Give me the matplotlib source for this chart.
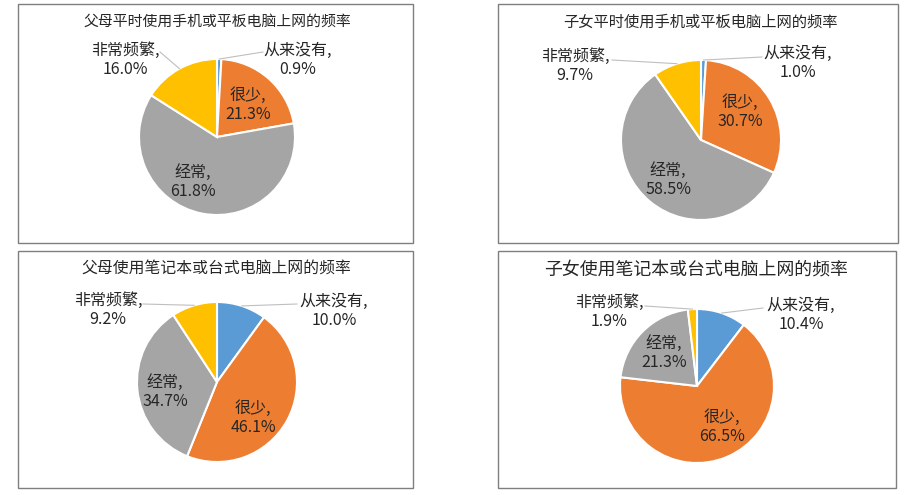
import numpy as np
import matplotlib
matplotlib.use('Agg')
import matplotlib.pyplot as plt
from matplotlib.patches import Rectangle

plt.rcParams['font.family'] = ['Noto Sans CJK SC', 'DejaVu Sans']

# Datos (porcentajes)
categorias = ['从来没有', '很少', '经常', '非常频繁']
titulos = ['父母平时使用手机或平板电脑上网的频率',
           '子女平时使用手机或平板电脑上网的频率',
           '父母使用笔记本或台式电脑上网的频率',
           '子女使用笔记本或台式电脑上网的频率']
padres_movil = [0.9, 21.3, 61.8, 16.0]
hijos_movil = [1.0, 30.7, 58.5, 9.7]
padres_pc = [10.0, 46.1, 34.7, 9.2]
hijos_pc = [10.4, 66.5, 21.3, 1.9]
series = [padres_movil, hijos_movil, padres_pc, hijos_pc]

colores = ['#5B9BD5', '#ED7D31', '#A5A5A5', '#FFC000']

W, H = 911, 495

# Layout en pixeles (x, y desde arriba)
marcos = [(18, 4, 413, 243), (498, 4, 898, 243),
          (18, 251, 413, 488), (498, 251, 896, 488)]
centros = [(217, 137), (701, 140), (217, 382), (697, 386)]
radios = [78, 80, 80, 77]
titulo_pos = [(217, 22, 10.7), (701, 22, 11.0), (216, 268, 11.4), (696, 270, 12.9)]
# posicion de cada etiqueta (centro del bloque de dos lineas)
etiquetas_pos = [
    [(298, 60), (248, 105), (193, 182), (125, 60)],
    [(798, 63), (740, 112), (668, 180), (575, 66)],
    [(334, 311), (253, 418), (165, 392), (108, 310)],
    [(801, 315), (722, 427), (664, 353), (609, 312)],
]
# inicio de las lineas guia (solo para etiquetas exteriores)
guias = [
    {0: (263, 52), 3: (160, 52)},
    {0: (762, 57), 3: (612, 60)},
    {0: (297, 304), 3: (143, 304)},
    {0: (763, 308), 3: (645, 306)},
]

fig = plt.figure(figsize=(W / 100, H / 100), dpi=100)
ax = fig.add_axes([0, 0, 1, 1])

for i, vals in enumerate(series):
    cx, cy = centros[i]
    r = radios[i]
    ax.pie(vals, colors=colores, startangle=90, counterclock=False,
           center=(cx, H - cy), radius=r,
           wedgeprops=dict(edgecolor='white', linewidth=1.5))

    x0, y0, x1, y1 = marcos[i]
    ax.add_patch(Rectangle((x0, H - y1), x1 - x0, y1 - y0, fill=False,
                           edgecolor='#7F7F7F', linewidth=1.0, zorder=0))

    tx, ty, ts = titulo_pos[i]
    ax.text(tx, H - ty, titulos[i], ha='center', va='center',
            fontsize=ts, color='#262626')

    total = sum(vals)
    acum = 0
    for j, v in enumerate(vals):
        medio = (acum + v / 2) / total * 360
        acum += v
        lx, ly = etiquetas_pos[i][j]
        ax.text(lx, H - ly, f'{categorias[j]},\n{v:.1f}%', ha='center',
                va='center', fontsize=11.5, color='#262626', linespacing=1.2)
        if j in guias[i]:
            gx, gy = guias[i][j]
            ang = np.deg2rad(medio)
            px = cx + r * np.sin(ang)
            py = cy - r * np.cos(ang)
            ax.plot([gx, px], [H - gy, H - py], color='#BFBFBF', lw=0.8)

ax.set_xlim(0, W)
ax.set_ylim(0, H)
ax.set_aspect('auto')
ax.axis('off')

fig.savefig('out.png', dpi=100, facecolor='white')
